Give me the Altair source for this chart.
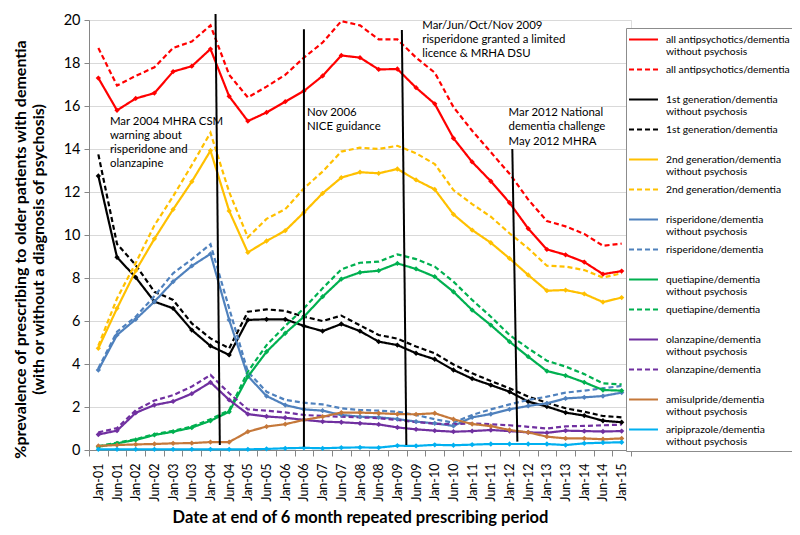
import json
import altair as alt
import pandas as pd

FONT = "Lato"

periods = ["Jan-01", "Jun-01", "Jan-02", "Jun-02", "Jan-03", "Jun-03", "Jan-04", "Jun-04",
           "Jan-05", "Jun-05", "Jan-06", "Jun-06", "Jan-07", "Jun-07", "Jan-08", "Jun-08",
           "Jan-09", "Jun-09", "Jan-10", "Jun-10", "Jan-11", "Jun-11", "Jan-12", "Jun-12",
           "Jan-13", "Jun-13", "Jan-14", "Jun-14", "Jan-15"]

series_names = [
    "all antipsychotics/dementia\nwithout psychosis",
    "all antipsychotics/dementia\n",
    "1st generation/dementia\nwithout psychosis",
    "1st generation/dementia\n",
    "2nd generation/dementia\nwithout psychosis",
    "2nd generation/dementia\n",
    "risperidone/dementia\nwithout psychosis",
    "risperidone/dementia\n",
    "quetiapine/dementia\nwithout psychosis",
    "quetiapine/dementia\n",
    "olanzapine/dementia\nwithout psychosis",
    "olanzapine/dementia\n",
    "amisulpride/dementia\nwithout psychosis",
    "aripiprazole/dementia\nwithout psychosis",
]

all_wo = [17.3, 15.8, 16.35, 16.6, 17.6, 17.85, 18.65, 16.45, 15.3, 15.7, 16.2, 16.7, 17.4, 18.35, 18.25,
          17.7, 17.72, 16.85, 16.1, 14.5, 13.4, 12.5, 11.5, 10.3, 9.33, 9.08, 8.74, 8.18, 8.32]
all_d = [18.7, 16.95, 17.4, 17.8, 18.7, 19.0, 19.75, 17.45, 16.4, 16.9, 17.45, 18.25, 18.95, 19.95, 19.75,
         19.1, 19.1, 18.25, 17.55, 15.95, 14.85, 13.85, 12.85, 11.65, 10.65, 10.4, 10.05, 9.5, 9.6]
gen1_wo = [12.75, 8.96, 8.03, 6.9, 6.59, 5.58, 4.84, 4.42, 6.05, 6.08, 6.08, 5.77, 5.53, 5.86, 5.53,
           5.04, 4.88, 4.5, 4.22, 3.72, 3.32, 3.02, 2.71, 2.25, 2.02, 1.74, 1.6, 1.36, 1.29]
gen1_d = [13.75, 9.58, 8.6, 7.36, 6.98, 5.89, 5.19, 4.73, 6.43, 6.54, 6.47, 6.2, 6.0, 6.25, 5.8,
          5.35, 5.18, 4.81, 4.5, 3.98, 3.57, 3.21, 2.87, 2.48, 2.2, 1.94, 1.78, 1.58, 1.52]
gen2_wo = [4.73, 6.59, 8.34, 9.82, 11.19, 12.48, 13.92, 11.12, 9.19, 9.72, 10.2, 11.05, 11.94, 12.67, 12.92,
           12.87, 13.07, 12.56, 12.12, 10.96, 10.23, 9.64, 8.91, 8.14, 7.41, 7.44, 7.26, 6.88, 7.09]
gen2_d = [4.85, 7.05, 8.7, 10.45, 11.8, 13.25, 14.76, 12.0, 9.89, 10.75, 11.2, 12.17, 12.95, 13.88, 14.06,
          14.0, 14.15, 13.8, 13.3, 12.09, 11.44, 10.85, 10.08, 9.38, 8.57, 8.53, 8.37, 8.02, 8.22]
ris_wo = [3.72, 5.35, 6.08, 6.9, 7.83, 8.56, 9.12, 6.05, 3.44, 2.51, 2.09, 1.89, 1.83, 1.63, 1.55,
          1.52, 1.44, 1.32, 1.24, 1.12, 1.52, 1.67, 1.89, 2.05, 2.17, 2.4, 2.45, 2.51, 2.67]
ris_d = [3.8, 5.5, 6.2, 7.16, 8.22, 8.87, 9.57, 6.59, 3.64, 2.71, 2.33, 2.2, 2.12, 1.94, 1.86,
         1.83, 1.78, 1.63, 1.43, 1.27, 1.63, 1.89, 2.12, 2.33, 2.48, 2.67, 2.76, 2.87, 2.98]
que_wo = [0.15, 0.31, 0.47, 0.7, 0.85, 1.04, 1.36, 1.78, 3.41, 4.57, 5.43, 6.2, 7.13, 7.95, 8.26,
          8.34, 8.68, 8.42, 8.06, 7.36, 6.51, 5.81, 5.04, 4.34, 3.67, 3.46, 3.15, 2.79, 2.76]
que_d = [0.18, 0.34, 0.5, 0.74, 0.89, 1.09, 1.43, 1.85, 3.64, 4.88, 5.77, 6.59, 7.52, 8.4, 8.71,
         8.76, 9.1, 8.88, 8.53, 7.83, 6.98, 6.2, 5.35, 4.73, 4.15, 3.88, 3.53, 3.1, 3.05]
ola_wo = [0.72, 0.9, 1.73, 2.09, 2.26, 2.62, 3.15, 2.33, 1.67, 1.56, 1.5, 1.4, 1.32, 1.29, 1.24,
          1.19, 1.05, 0.96, 0.9, 0.85, 0.88, 0.93, 0.88, 0.82, 0.8, 0.9, 0.88, 0.86, 0.88]
ola_d = [0.82, 1.02, 1.85, 2.3, 2.55, 2.95, 3.49, 2.64, 1.89, 1.83, 1.75, 1.63, 1.58, 1.55, 1.52,
         1.48, 1.4, 1.3, 1.22, 1.2, 1.24, 1.2, 1.15, 1.08, 1.0, 1.1, 1.12, 1.15, 1.18]
ami_wo = [0.19, 0.23, 0.26, 0.28, 0.31, 0.32, 0.37, 0.37, 0.85, 1.09, 1.2, 1.4, 1.55, 1.74, 1.74,
          1.71, 1.67, 1.66, 1.71, 1.43, 1.21, 1.11, 0.93, 0.82, 0.62, 0.54, 0.54, 0.5, 0.54]
ari_wo = [0.03, 0.03, 0.03, 0.03, 0.03, 0.03, 0.03, 0.03, 0.03, 0.05, 0.08, 0.1, 0.08, 0.11, 0.12,
          0.11, 0.2, 0.19, 0.24, 0.22, 0.25, 0.28, 0.28, 0.28, 0.28, 0.23, 0.31, 0.34, 0.36]

series_values = [all_wo, all_d, gen1_wo, gen1_d, gen2_wo, gen2_d, ris_wo, ris_d,
                 que_wo, que_d, ola_wo, ola_d, ami_wo, ari_wo]

colors = ["#FF0000", "#FF0000", "#000000", "#000000", "#FFC000", "#FFC000",
          "#4F81BD", "#4F81BD", "#00B050", "#00B050", "#7030A0", "#7030A0",
          "#C5783A", "#00B0F0"]
dashes = [[1, 0], [5, 3], [1, 0], [5, 3], [1, 0], [5, 3], [1, 0], [5, 3],
          [1, 0], [5, 3], [1, 0], [5, 3], [1, 0], [1, 0]]
marker_series = [n for n, d in zip(series_names, dashes) if d == [1, 0]]

# Policy events: vertical lines (index positions) and annotation texts
event_x_top = [6.27, 11.0, 16.24, 22.15]
event_x_bottom = [6.5, 11.0, 16.48, 22.42]
event_y_top = [20.28, 19.57, 19.53, 14.0]
event_y_bottom = [0.23, 0.15, 0.23, 0.39]

note_x = [0.62, 11.16, 17.33, 21.95]
note_y = [15.27, 15.66, 19.72, 15.66]
note_text = [
    ["Mar 2004 MHRA CSM", "warning about", "risperidone and", "olanzapine"],
    ["Nov 2006", "NICE guidance"],
    ["Mar/Jun/Oct/Nov 2009", "risperidone granted a limited", "licence & MRHA DSU"],
    ["Mar 2012 National", "dementia challenge", "May 2012 MHRA"],
]

rows = []
for name, vals in zip(series_names, series_values):
    for i, v in enumerate(vals):
        rows.append({"i": i, "v": v, "series": name})
df = pd.DataFrame(rows)

events = pd.DataFrame({"xt": event_x_top, "xb": event_x_bottom,
                       "yt": event_y_top, "yb": event_y_bottom})
notes = pd.DataFrame({"tx": note_x, "ty": note_y, "lines": note_text})

tick_values = [k / 2 - 0.5 for k in range(2 * len(periods) + 1)]
label_expr = "datum.value % 1 === 0 ? " + json.dumps(periods) + "[datum.value] : ''"

x_scale = alt.Scale(domain=[-0.5, len(periods) - 0.5], nice=False, zero=False)
y_scale = alt.Scale(domain=[0, 20], nice=False)

x_axis = alt.Axis(
    values=tick_values, labelExpr=label_expr, labelAngle=270, labelOverlap=False,
    labelFont=FONT, labelFontSize=12.5, labelColor="#000000", labelPadding=7,
    tickSize=6, tickColor="#868686",
    tickOpacity={"condition": {"test": "datum.value % 1 !== 0", "value": 1}, "value": 0},
    domainColor="#868686", grid=False,
    title="Date at end of 6 month repeated prescribing period",
    titleFont=FONT, titleFontSize=16.5, titleFontWeight="bold", titleColor="#000000",
    titleBaseline="middle", titleY=67,
)
y_axis = alt.Axis(
    values=list(range(0, 21, 2)), labelFont=FONT, labelFontSize=14.5, labelColor="#000000",
    labelPadding=4, tickSize=5, tickColor="#868686", domainColor="#868686",
    grid=True, gridColor="#D9D9D9", gridWidth=1,
    title=["%prevalence of prescribing to older patients with dementia",
           "(with or without a diagnosis of psychosis)"],
    titleFont=FONT, titleFontSize=16, titleFontWeight="bold", titleColor="#000000",
    titleBaseline="middle", titleX=-69, titleY=229, titleLineHeight=18.5, titleAngle=270,
)

legend = alt.Legend(
    title=None, orient="none", legendX=537, legendY=8,
    labelExpr="split(datum.label, '\\n')", labelFont=FONT, labelFontSize=10.3,
    labelColor="#000000", labelLimit=220, labelOffset=14, labelBaseline="middle",
    symbolType="M-2,0L2,0", symbolSize=210, symbolOffset=6, symbolStrokeWidth=2.2,
    fillColor="#FFFFFF", strokeColor="#8C8C8C", padding=3, rowPadding=3,
)

color = alt.Color("series:N", scale=alt.Scale(domain=series_names, range=colors), legend=legend)
dash = alt.StrokeDash("series:N", scale=alt.Scale(domain=series_names, range=dashes), legend=legend)

base = alt.Chart(df)

lines = base.mark_line(strokeWidth=2.2).encode(
    x=alt.X("i:Q", scale=x_scale, axis=x_axis),
    y=alt.Y("v:Q", scale=y_scale, axis=y_axis),
    color=color,
    strokeDash=dash,
    order=alt.Order("i:Q"),
)

points = base.transform_filter(
    alt.FieldOneOfPredicate(field="series", oneOf=marker_series)
).mark_point(shape="diamond", filled=True, size=28, opacity=1).encode(
    x=alt.X("i:Q", scale=x_scale, axis=x_axis),
    y=alt.Y("v:Q", scale=y_scale, axis=y_axis),
    color=alt.Color("series:N", scale=alt.Scale(domain=series_names, range=colors), legend=None),
)

rules = alt.Chart(events).mark_rule(color="#000000", strokeWidth=2).encode(
    x=alt.X("xt:Q", scale=x_scale, axis=x_axis),
    x2="xb:Q",
    y=alt.Y("yt:Q", scale=y_scale, axis=y_axis),
    y2="yb:Q",
)

texts = alt.Chart(notes).mark_text(
    align="left", baseline="middle", font=FONT, fontSize=11.4, lineHeight=14.2, color="#000000"
).encode(
    x=alt.X("tx:Q", scale=x_scale, axis=x_axis),
    y=alt.Y("ty:Q", scale=y_scale, axis=y_axis),
    text="lines",
)

chart = alt.layer(lines, points, rules, texts).properties(
    width=542, height=430,
    autosize=alt.AutoSizeParams(type="none"),
    padding={"left": 81, "top": 12, "right": 161, "bottom": 77},
).configure_view(stroke=None).configure(background="#FFFFFF")

chart.save("out.html", embed_options={"renderer": "svg", "actions": False})
